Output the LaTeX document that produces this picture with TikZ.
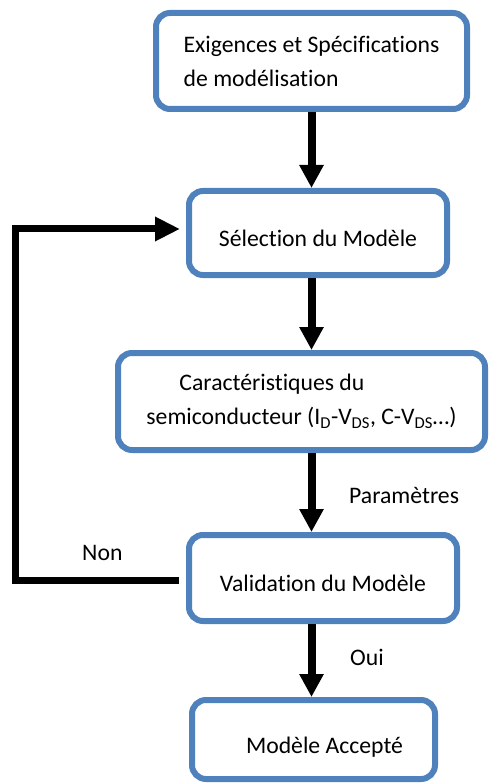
\documentclass[tikz,border=0pt]{standalone}
\usepackage{fontspec}
\setmainfont{Carlito}[Ligatures=NoCommon]
\usetikzlibrary{arrows.meta,calc}
\definecolor{boxblue}{HTML}{4F81BD}
\begin{document}
\begin{tikzpicture}[x=1pt,y=1pt,
  box/.style={draw=boxblue,line width=6pt,rounded corners=14pt,fill=white,inner sep=0pt,
    font=\fontsize{23.7}{31}\selectfont},
  flow/.style={draw=black,line width=8pt,-{Triangle[width=23pt,length=23pt]}},
  fb/.style={draw=black,line width=7pt,line join=miter,-{Triangle[width=23pt,length=25pt]}},
  lbl/.style={font=\fontsize{23.7}{28}\selectfont,anchor=west,inner sep=0pt}]
\useasboundingbox (0,0) rectangle (490,-783);
\node[box,minimum width=311pt,minimum height=96pt,align=left] (b1) at (311.5,-61)
  {Exigences et Spécifications\\[3pt]de modélisation};
\node[box,minimum width=258pt,minimum height=84pt,text height=27pt,text depth=0pt] (b2) at (318,-233) {Sélection du Modèle};
\node[box,minimum width=367pt,minimum height=97pt,align=left] (b3) at (301.5,-401.5)
  {\hspace*{33pt}Caractéristiques du\\[3pt]semiconducteur (I\textsubscript{D}-V\textsubscript{DS}, C-V\textsubscript{DS}…)};
\node[box,minimum width=268pt,minimum height=86pt,text height=27pt,text depth=0pt] (b4) at (323,-578) {Validation du Modèle};
\node[box,minimum width=243pt,minimum height=79pt,text height=33pt,text depth=5pt] (b5) at (313.5,-739.5) {\hspace*{22pt}Modèle Accepté};
\draw[flow] (b1.south) -- (b1.south |- b2.north);
\draw[flow] (b1.south |- b2.south) -- (b1.south |- b3.north);
\draw[flow] (b1.south |- b3.south) -- (b1.south |- b4.north);
\draw[flow] (b1.south |- b4.south) -- (b1.south |- b5.north);
\coordinate (loop) at (15,0);
\coordinate (ent) at ([xshift=-6pt,yshift=4pt]b2.west);
\draw[fb] ([xshift=-7pt,yshift=-2pt]b4.west) -| (loop |- ent) -- (ent);
\node[lbl] (par) at (349,-495) {Paramètres};
\node[lbl] (non) at (82,-553) {Non};
\node[lbl] (oui) at (350,-657) {Oui};
\end{tikzpicture}
\end{document}
